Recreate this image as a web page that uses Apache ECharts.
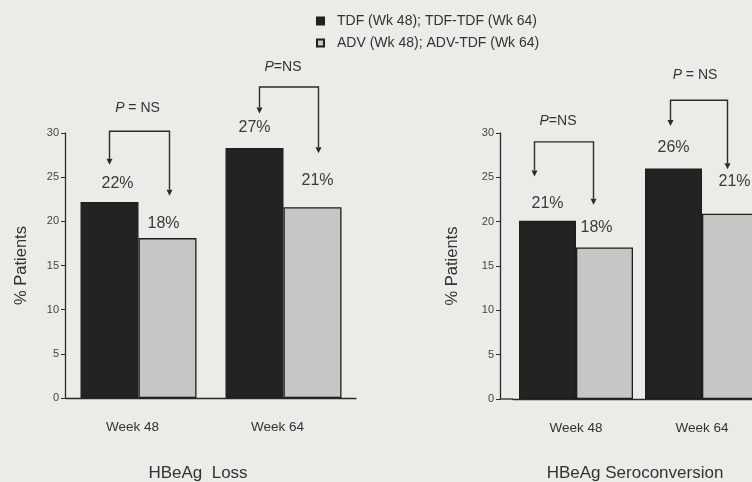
<!DOCTYPE html>
<html>
<head>
<meta charset="utf-8">
<script src="https://cdn.jsdelivr.net/npm/echarts@6/dist/echarts.min.js"></script>
<style>
html,body{margin:0;padding:0;background:#ecebe8;overflow:hidden;width:752px;height:482px;}
#chart{width:800px;height:482px;}
</style>
</head>
<body>
<div id="chart"></div>
<script>
// ---- data ----
var categories = ['Week 48', 'Week 64'];
var seriesNames = ['TDF (Wk 48); TDF-TDF (Wk 64)', 'ADV (Wk 48); ADV-TDF (Wk 64)'];
var panelTitles = ['HBeAg  Loss', 'HBeAg Seroconversion'];
var yAxisTitle = '% Patients';
var yTicks = [0, 5, 10, 15, 20, 25, 30];

var lossTDF = [22.2, 28.3];
var lossADV = [18.1, 21.6];
var lossTDFLabels = ['22%', '27%'];
var lossADVLabels = ['18%', '21%'];

var seroTDF = [20.1, 26.0];
var seroADV = [17.1, 20.9];
var seroTDFLabels = ['21%', '26%'];
var seroADVLabels = ['18%', '21%'];

// brackets: [category index, bracket top, left arrow tip, right arrow tip] (in % units)
var lossBrackets = [[0, 30.2, 26.4, 22.9], [1, 35.2, 32.2, 27.7]];
var seroBrackets = [[0, 29.0, 25.1, 21.9], [1, 33.7, 30.8, 25.9]];
var pLabels = ['P = NS', 'P=NS', 'P=NS', 'P = NS'];

// ---- styles ----
var FONT = 'Liberation Sans, Arial, Helvetica, sans-serif';
var TXT = '#333';
var darkFill = '#232323', lightFill = '#c6c6c4', edge = '#1e1e1e';
var barW = [58, 57];
var yOffset = [1, 13];
var labelDist = { lossTDF: [10, 12], lossADV: [7, 19], seroTDF: [9, 13], seroADV: [12, 24] };
var labelDx = { lossTDF: [8, 0], lossADV: [-4, 5], seroTDF: [0, 0], seroADV: [-8, 4] };
var bracketDx = [[[0, 2], [5, 6]], [[-13, -11], [-3, -3]]];
var pShift = [[-2, -23], [-6, -20], [-6, -21], [-4, -25]];

function barData(vals, labels, dists, dxs) {
  return vals.map(function (v, i) {
    return {
      value: v,
      label: { distance: dists[i], offset: [dxs[i], 0], formatter: labels[i] }
    };
  });
}

function barSeries(name, data, grid, fill) {
  return {
    name: name, type: 'bar', xAxisIndex: grid, yAxisIndex: grid,
    data: data, barWidth: barW[grid], barGap: '0%',
    itemStyle: { color: fill, borderColor: edge, borderWidth: 1.3 },
    label: { show: true, position: 'top', fontFamily: FONT, fontSize: 16, color: '#3a3a3a' },
    emphasis: { disabled: true }, animation: false
  };
}

function bracketSeries(grid, data, pIdx) {
  return {
    type: 'custom', xAxisIndex: grid, yAxisIndex: grid, clip: false, z: 10, animation: false,
    silent: true,
    data: data,
    encode: { x: 0, y: 1 },
    renderItem: function (params, api) {
      var ci = api.value(0);
      var c = api.coord([ci, 0]);
      var band = api.size([1, 0])[0];
      var half = barW[grid] / 2;
      var dx = bracketDx[grid][ci];
      var xl = c[0] - half + dx[0];
      var xr = c[0] + half + dx[1];
      var yTop = api.coord([ci, api.value(1)])[1];
      var yL = api.coord([ci, api.value(2)])[1];
      var yR = api.coord([ci, api.value(3)])[1];
      var st = { stroke: '#2a2a2a', lineWidth: 1.4, fill: null };
      var a = 3, h = 6;
      var ps = pShift[pIdx + ci];
      var children = [
        { type: 'polyline', shape: { points: [[xl, yL - h], [xl, yTop], [xr, yTop], [xr, yR - h]] }, style: st },
        { type: 'polygon', shape: { points: [[xl - a, yL - h], [xl + a, yL - h], [xl, yL]] }, style: { fill: '#2a2a2a' } },
        { type: 'polygon', shape: { points: [[xr - a, yR - h], [xr + a, yR - h], [xr, yR]] }, style: { fill: '#2a2a2a' } },
        {
          type: 'text',
          x: (xl + xr) / 2 + ps[0], y: yTop + ps[1],
          style: {
            text: pLabels[pIdx + ci].replace(/^P/, '{i|P}'),
            rich: { i: { fontStyle: 'italic', fontFamily: FONT, fontSize: 14, fill: TXT } },
            fontFamily: FONT, fontSize: 14, fill: TXT,
            align: 'center', verticalAlign: 'middle'
          }
        }
      ];
      if (ci === 0 && yOffset[grid] > 2) {
        // extend the baseline left to the offset y axis
        var x0 = c[0] - band / 2;
        children.push({ type: 'line', shape: { x1: x0 - yOffset[grid], y1: c[1], x2: x0, y2: c[1] },
          style: { stroke: '#2a2a2a', lineWidth: 1.3 } });
      }
      return { type: 'group', children: children };
    }
  };
}

function yAxisCfg(grid, nameGap) {
  return {
    type: 'value', gridIndex: grid, min: yTicks[0], max: yTicks[yTicks.length - 1], interval: yTicks[1] - yTicks[0],
    offset: yOffset[grid],
    name: yAxisTitle, nameLocation: 'middle', nameRotate: 90, nameGap: nameGap,
    nameTextStyle: { fontFamily: FONT, fontSize: 16.5, color: TXT },
    axisLine: { show: true, lineStyle: { color: '#2a2a2a', width: 1.3 } },
    axisTick: { show: true, length: 4, lineStyle: { color: '#2a2a2a' } },
    axisLabel: { fontFamily: FONT, fontSize: 11, color: '#444', margin: 6 },
    splitLine: { show: false }
  };
}

function xAxisCfg(grid, padRight) {
  return {
    type: 'category', gridIndex: grid, data: categories,
    axisLine: { show: true, lineStyle: { color: '#2a2a2a', width: 1.3 } },
    axisTick: { show: false },
    axisLabel: { fontFamily: FONT, fontSize: 13.5, color: TXT, margin: 22, padding: [0, padRight, 0, 0] }
  };
}

var chart = echarts.init(document.getElementById('chart'), null, { renderer: 'canvas' });
chart.setOption({
  backgroundColor: '#ecebe8',
  animation: false,
  title: [
    { text: panelTitles[0], left: 193, top: 460, textAlign: 'center',
      textStyle: { fontFamily: FONT, fontSize: 17, fontWeight: 'normal', color: TXT } },
    { text: panelTitles[1], left: 630, top: 460, textAlign: 'center',
      textStyle: { fontFamily: FONT, fontSize: 17, fontWeight: 'normal', color: TXT } }
  ],
  legend: {
    orient: 'vertical', left: 311, top: 9, itemWidth: 7, itemHeight: 7, itemGap: 8,
    icon: 'rect', selectedMode: false,
    data: seriesNames,
    textStyle: { fontFamily: FONT, fontSize: 14, color: TXT, padding: [0, 0, 0, 8] }
  },
  grid: [
    { left: 66, top: 133, width: 290, height: 265 },
    { left: 513, top: 133, width: 252, height: 266 }
  ],
  xAxis: [xAxisCfg(0, 12), xAxisCfg(1, 0)],
  yAxis: [yAxisCfg(0, 35), yAxisCfg(1, 39)],
  series: [
    barSeries(seriesNames[0], barData(lossTDF, lossTDFLabels, labelDist.lossTDF, labelDx.lossTDF), 0, darkFill),
    barSeries(seriesNames[1], barData(lossADV, lossADVLabels, labelDist.lossADV, labelDx.lossADV), 0, lightFill),
    barSeries(seriesNames[0], barData(seroTDF, seroTDFLabels, labelDist.seroTDF, labelDx.seroTDF), 1, darkFill),
    barSeries(seriesNames[1], barData(seroADV, seroADVLabels, labelDist.seroADV, labelDx.seroADV), 1, lightFill),
    bracketSeries(0, lossBrackets, 0),
    bracketSeries(1, seroBrackets, 2)
  ]
});
</script>
</body>
</html>
